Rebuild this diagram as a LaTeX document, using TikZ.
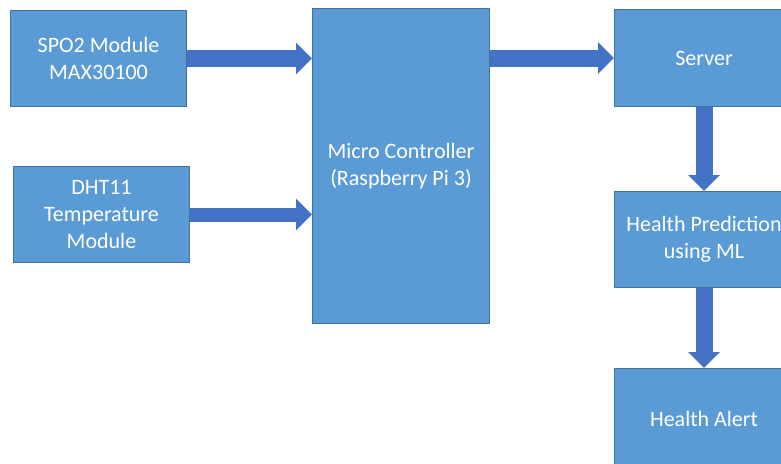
\documentclass[tikz,border=0pt]{standalone}
\usepackage{fontspec}
\setmainfont{Carlito}
\usetikzlibrary{arrows.meta}
\definecolor{boxfill}{HTML}{5B9BD5}
\definecolor{boxline}{HTML}{41719C}
\definecolor{arrfill}{HTML}{4472C4}
\begin{document}
\begin{tikzpicture}[x=1pt,y=-1pt,
  blockbox/.style={draw=boxline, line width=1pt, fill=boxfill, anchor=north west,
    inner sep=0pt, text=white, align=center,
    font=\fontsize{22}{26.8}\selectfont},
  blockarrow/.style={draw=arrfill, line width=#1, line cap=butt,
    -{Triangle[length=16pt,width=31pt,fill=arrfill]}},
  blockarrow/.default=17pt]
\useasboundingbox (0,0) rectangle (781,463);
\clip (0,0) rectangle (781,463);
\node[blockbox, minimum width=176pt, minimum height=96pt] (spo) at (10,10) {SPO2 Module\\MAX30100};
\node[blockbox, minimum width=176pt, minimum height=96pt] (dht) at (13,166) {DHT11\\Temperature\\Module};
\node[blockbox, minimum width=177pt, minimum height=315pt] (mc) at (312,8) {Micro Controller\\(Raspberry Pi 3)};
\node[blockbox, minimum width=179pt, minimum height=97pt] (srv) at (614,9) {Server};
\node[blockbox, minimum width=179pt, minimum height=96pt] (hp) at (614,191) {Health Prediction\\using ML};
\node[blockbox, minimum width=179pt, minimum height=100pt] (ha) at (614,368) {Health Alert};
\draw[blockarrow] (spo.east) -- (spo.east -| mc.west);
\draw[blockarrow=14pt] (dht.east) -- (dht.east -| mc.west);
\draw[blockarrow] (mc.east |- srv.west) -- (srv.west);
\draw[blockarrow] (srv.south) -- (hp.north);
\draw[blockarrow] (hp.south) -- (ha.north);
\end{tikzpicture}
\end{document}
